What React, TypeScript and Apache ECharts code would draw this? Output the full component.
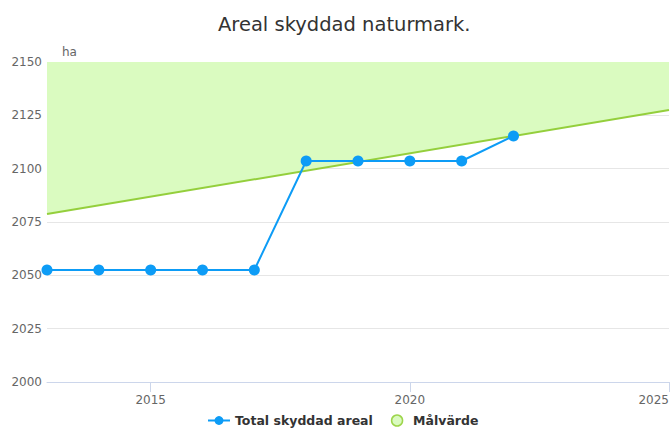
import React, { useEffect, useRef } from "react";
import * as echarts from "echarts";

const years = [2013, 2014, 2015, 2016, 2017, 2018, 2019, 2020, 2021, 2022];
const totalArea = [2052.5, 2052.5, 2052.5, 2052.5, 2052.5, 2103.6, 2103.6, 2103.6, 2103.6, 2115.3];
const targetYears = [2013, 2025];
const targetValues = [2078.75, 2127.5];
const xTickLabels = [2015, 2020, 2025];

const FONT = "DejaVu Sans";

export default function App() {
  const ref = useRef<HTMLDivElement>(null);
  useEffect(() => {
    if (!ref.current) return;
    const chart = echarts.init(ref.current, undefined, { renderer: "svg" });
    chart.setOption({
      animation: false,
      textStyle: { fontFamily: FONT },
      title: {
        text: "Areal skyddad naturmark.",
        left: 213,
        top: 9,
        textStyle: { fontFamily: FONT, fontSize: 19.5, fontWeight: "normal", color: "#333333" },
      },
      legend: {
        left: 202,
        bottom: 0,
        itemGap: 18,
        itemWidth: 22,
        itemHeight: 11,
        textStyle: { fontFamily: FONT, fontSize: 12.5, fontWeight: "bold", color: "#333333" },
        data: [
          { name: "Total skyddad areal" },
          {
            name: "Målvärde",
            icon: "circle",
            itemStyle: { color: "#dafbc0", borderColor: "#9dd54b", borderWidth: 1.5 },
          },
        ],
      },
      grid: { left: 47, right: 1, top: 62, bottom: 50, containLabel: false },
      xAxis: {
        type: "value",
        min: 2013,
        max: 2025,
        splitLine: { show: false },
        axisLine: { show: true, lineStyle: { color: "#ccd6eb" } },
        axisTick: { show: true, length: 10, lineStyle: { color: "#ccd6eb" }, customValues: xTickLabels },
        axisLabel: {
          customValues: xTickLabels,
          color: "#666666",
          fontSize: 12,
          fontFamily: FONT,
          margin: 12,
          alignMaxLabel: "right",
          formatter: (v: number) => String(v),
        },
      },
      yAxis: {
        type: "value",
        min: 2000,
        max: 2150,
        interval: 25,
        axisLine: { show: false },
        axisTick: { show: false },
        splitLine: { lineStyle: { color: "#e6e6e6" } },
        axisLabel: {
          color: "#666666",
          fontSize: 12,
          fontFamily: FONT,
          margin: 5,
          formatter: (v: number) => String(v),
        },
      },
      graphic: [
        {
          type: "text",
          left: 62,
          top: 46,
          style: { text: "ha", fill: "#666666", fontSize: 12, fontFamily: FONT },
        },
      ],
      series: [
        {
          name: "Målvärde",
          type: "line",
          data: targetYears.map((y, i) => [y, targetValues[i]]),
          symbol: "none",
          lineStyle: { color: "#94cf3c", width: 2 },
          itemStyle: { color: "#dafbc0" },
          areaStyle: { origin: "end", color: "#dafbc0", opacity: 1 },
          z: 1,
        },
        {
          name: "Total skyddad areal",
          type: "line",
          data: years.map((y, i) => [y, totalArea[i]]),
          symbol: "circle",
          symbolSize: 11,
          lineStyle: { color: "#0d9cf6", width: 2 },
          itemStyle: { color: "#0d9cf6" },
          z: 3,
        },
      ],
    });
    return () => chart.dispose();
  }, []);
  return <div ref={ref} style={{ width: 672, height: 432, position: "absolute", left: 0, top: 0 }} />;
}
